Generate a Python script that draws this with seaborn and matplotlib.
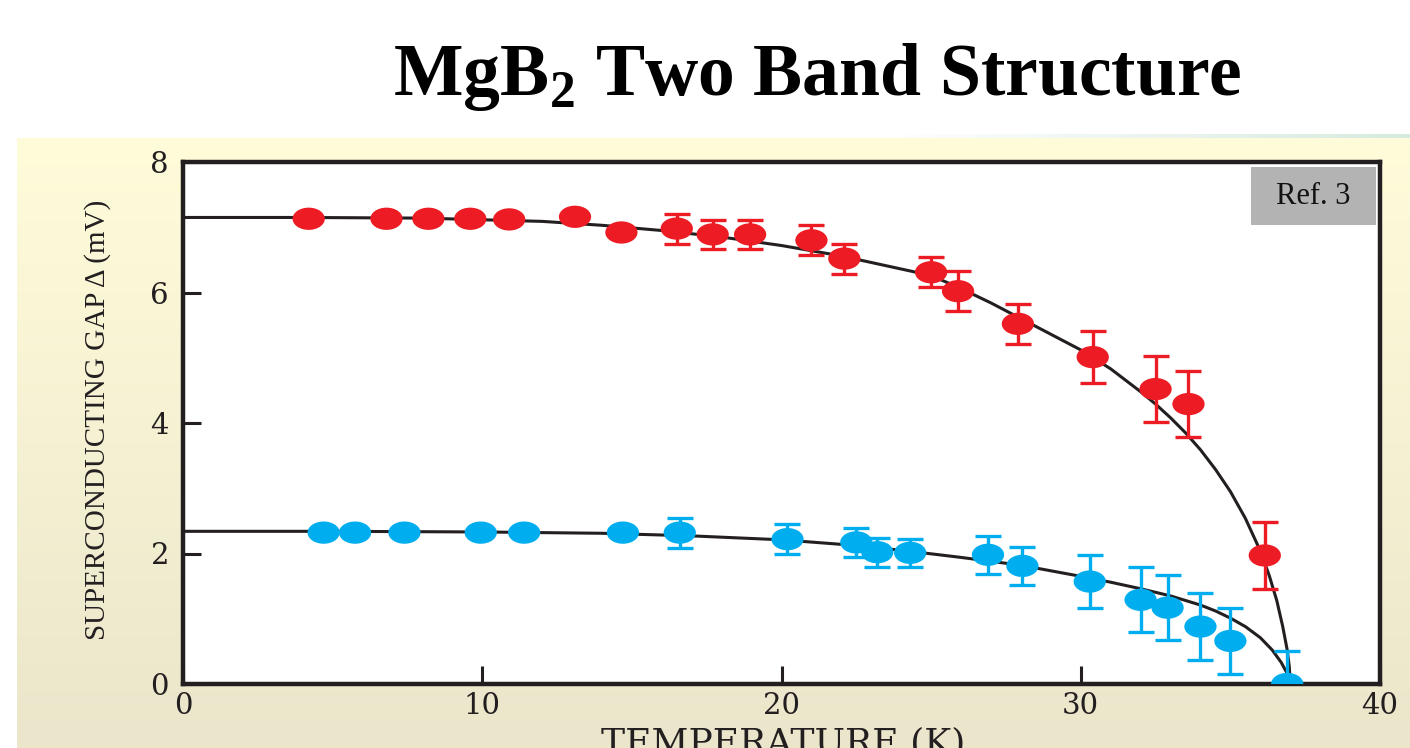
import numpy as np
import matplotlib
matplotlib.use("Agg")
import matplotlib.pyplot as plt
import seaborn as sns
from matplotlib.path import Path
from matplotlib.transforms import Affine2D
from matplotlib.patches import Rectangle

nan = np.nan

# --- data ---
# sigma band (red) and pi band (blue) gap vs temperature
red_T = [4.2, 6.8, 8.2, 9.6, 10.9, 13.1, 14.65, 16.5, 17.7, 18.95, 21.0, 22.1,
         25.0, 25.9, 27.9, 30.4, 32.5, 33.6, 36.15]
red_gap = [7.13, 7.13, 7.13, 7.13, 7.12, 7.16, 6.92, 6.98, 6.89, 6.89, 6.80, 6.52,
           6.31, 6.02, 5.52, 5.01, 4.52, 4.29, 1.97]
red_err = [nan, nan, nan, nan, nan, nan, nan, 0.23, 0.22, 0.22, 0.23, 0.23,
           0.23, 0.31, 0.31, 0.40, 0.51, 0.51, 0.51]

blue_T = [4.7, 5.75, 7.4, 9.95, 11.4, 14.7, 16.6, 20.2, 22.5, 23.2, 24.3, 26.9,
          28.05, 30.3, 32.0, 32.9, 34.0, 35.0, 36.9]
blue_gap = [2.32, 2.32, 2.32, 2.32, 2.32, 2.32, 2.32, 2.22, 2.17, 2.02, 2.01, 1.98,
            1.81, 1.57, 1.29, 1.17, 0.88, 0.66, 0.0]
blue_err = [nan, nan, nan, nan, nan, nan, 0.23, 0.23, 0.22, 0.22, 0.21, 0.29,
            0.29, 0.41, 0.50, 0.50, 0.51, 0.50, 0.50]

# fitted curves (traced)
fit_red_T = [0, 4, 8, 12, 14, 16, 18, 20, 22, 24, 25, 26, 27, 28, 29, 30, 31, 32,
             32.5, 33, 33.5, 34, 34.5, 35, 35.5, 36, 36.3, 36.55, 36.75, 36.9,
             36.97, 37.0]
fit_red = [7.15, 7.15, 7.14, 7.09, 7.03, 6.95, 6.85, 6.72, 6.56, 6.36, 6.26, 6.06,
           5.84, 5.60, 5.36, 5.12, 4.83, 4.48, 4.29, 4.08, 3.85, 3.59, 3.29, 2.95,
           2.54, 2.04, 1.66, 1.28, 0.88, 0.52, 0.26, 0.0]
fit_blue_T = [0, 5, 10, 14, 17, 20, 22, 24, 26, 28, 30, 31, 32, 33, 34, 34.5, 35,
              35.5, 36.0, 36.4, 36.7, 36.9, 37.0]
fit_blue = [2.34, 2.34, 2.33, 2.31, 2.27, 2.21, 2.14, 2.05, 1.94, 1.82, 1.65, 1.56,
            1.46, 1.35, 1.21, 1.12, 1.01, 0.88, 0.71, 0.52, 0.33, 0.16, 0.0]

x_ticks = [0, 10, 20, 30, 40]
y_ticks = [0, 2, 4, 6, 8]

RED = "#ed1c24"
BLUE = "#00aeef"
INK = "#231f20"

sns.set_style("white")
plt.rcParams["mathtext.fontset"] = "custom"
plt.rcParams["mathtext.rm"] = "Liberation Serif"
plt.rcParams["mathtext.bf"] = "Liberation Serif:bold"

fig = plt.figure(figsize=(14.1, 7.48), dpi=100, facecolor="white")

# yellow slide panel behind the plot
bg = fig.add_axes([17 / 1410, 0, 1 - 17 / 1410, 610 / 748])
grad = np.linspace(0, 1, 256).reshape(-1, 1)
top = np.array([1.0, 0.988, 0.855])
bot = np.array([0.922, 0.902, 0.796])
img = top + (bot - top) * grad[..., None]
bg.imshow(img.reshape(256, 1, 3), aspect="auto", extent=[0, 1, 0, 1])
bg.set_axis_off()
strip = fig.add_axes([880 / 1410, 610 / 748, 530 / 1410, 4 / 748])
sgrad = np.linspace(0, 1, 256).reshape(1, -1)
s0 = np.array([1.0, 1.0, 1.0])
s1 = np.array([0.84, 0.92, 0.87])
strip.imshow((s0 + (s1 - s0) * sgrad[..., None]), aspect="auto", extent=[0, 1, 0, 1])
strip.set_axis_off()

ax = fig.add_axes([183 / 1410, 1 - 684 / 748, 1197 / 1410, 522 / 748])
ax.set_facecolor("white")

# oval markers
ellipse = Path.unit_circle().transformed(Affine2D().scale(1.0, 0.69))

sns.lineplot(x=fit_red_T, y=fit_red, color=INK, linewidth=2.2, errorbar=None,
             sort=False, ax=ax, zorder=2)
sns.lineplot(x=fit_blue_T, y=fit_blue, color=INK, linewidth=2.2, errorbar=None,
             sort=False, ax=ax, zorder=2)

for T, g, e, c in [(red_T, red_gap, red_err, RED), (blue_T, blue_gap, blue_err, BLUE)]:
    T = np.array(T); g = np.array(g); e = np.array(e)
    m = ~np.isnan(e)
    ax.errorbar(T[m], g[m], yerr=e[m], fmt="none", ecolor=c, elinewidth=2.4,
                capsize=9.5, capthick=2.4, zorder=3)
    sns.scatterplot(x=T, y=g, marker=ellipse, s=540, color=c, edgecolor="none",
                    linewidth=0, ax=ax, zorder=4, legend=False)

ax.set_xlim(0, 40)
ax.set_ylim(0, 8)
ax.set_xticks(x_ticks)
ax.set_yticks(y_ticks)
ax.tick_params(bottom=True, left=True, top=False, right=False,
               direction="in", length=13, width=2.2, color=INK,
               labelsize=21, labelcolor=INK, pad=6)
ax.tick_params(axis="y", pad=10)
for lab in ax.get_xticklabels() + ax.get_yticklabels():
    lab.set_family("DejaVu Serif")
for sp in ax.spines.values():
    sp.set_visible(True)
    sp.set_linewidth(3.2)
    sp.set_color(INK)

ax.set_ylabel("SUPERCONDUCTING GAP Δ (mV)", family="Liberation Serif",
              fontsize=21, color=INK)
ax.yaxis.set_label_coords(-0.06, 0.506)
ax.set_xlabel("TEMPERATURE (K)", family="DejaVu Serif", fontsize=26, color=INK)
ax.xaxis.set_label_coords(0.501, -0.082)

ax.add_patch(Rectangle((0.892, 0.879), 0.105, 0.111, transform=ax.transAxes,
                       facecolor="#b3b3b3", edgecolor="none", zorder=5))
ax.text(0.9445, 0.934, "Ref. 3", transform=ax.transAxes, ha="center", va="center",
        family="Liberation Serif", fontsize=22, color="#111111", zorder=6)

fig.text(817 / 1410, 1 - 95 / 748, r"MgB$_\mathbf{2}$ Two Band Structure",
         ha="center", va="baseline", family="Liberation Serif", fontweight="bold",
         fontsize=53, color="black")

fig.savefig("out.png", dpi=100, facecolor="white")
